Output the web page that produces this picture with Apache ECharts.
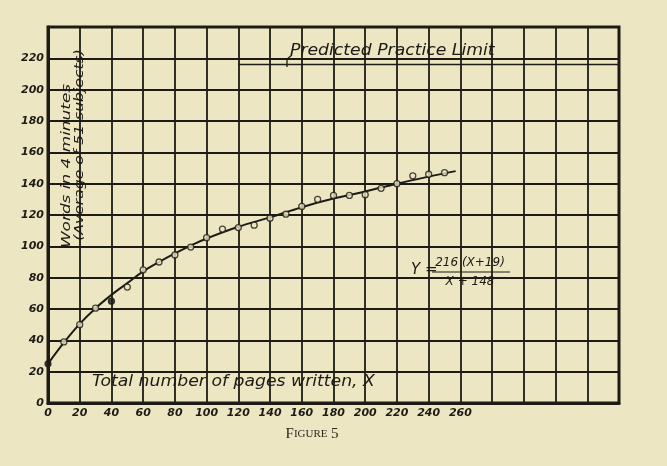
<!DOCTYPE html>
<html>
<head>
<meta charset="utf-8">
<script src="https://cdn.jsdelivr.net/npm/echarts@6/dist/echarts.min.js"></script>
<style>
html,body{margin:0;padding:0;background:#ede6c3;}
#c{width:667px;height:466px;}
</style>
</head>
<body>
<div id="c"></div>
<script>
// Observed points (pages written, words in 4 minutes)
const pointX = [0,10,20,30,40,50,60,70,80,90,100,110,120,130,140,150,160,170,180,190,200,210,220,230,240,250];
const pointY = [25,39,50,60.5,65,74,85,90,94.5,99.5,105.5,111,112,113.5,118,120.5,125.5,130,132.5,132.5,133,137,140,145,146,147];
// Fitted curve
const curveX = [0,10,20,30,40,50,60,70,80,90,100,120,140,160,180,200,220,240,257];
const curveY = [25,38.5,50.5,60.5,69,76.5,84,90,95.5,100.5,105,112.5,118.5,125,130.5,135,140,144.5,148];
// Predicted practice limit line
const limitX = [120,360];
const limitY = [216,216];
const filledPoints = [0,40];
const xMaxLabel = 260;
const yMaxLabel = 220;

const ink = '#1c1b16';
const paper = '#ede6c3';
const chart = echarts.init(document.getElementById('c'), null, {renderer:'canvas'});
const font = 'DejaVu Sans';
chart.setOption({
  backgroundColor:paper,
  animation:false,
  grid:{left:48,right:48,top:27,bottom:63,show:true,borderColor:ink,borderWidth:3,backgroundColor:'transparent'},
  xAxis:{type:'value',min:0,max:360,interval:20,
    axisLine:{show:true,lineStyle:{color:ink,width:3}},
    axisTick:{show:false},
    splitLine:{show:true,lineStyle:{color:ink,width:1.8}},
    axisLabel:{color:ink,fontFamily:font,fontStyle:'italic',fontWeight:'bold',fontSize:11,margin:5,
      formatter:v=>v<=xMaxLabel?String(v):''}},
  yAxis:{type:'value',min:0,max:240,interval:20,
    axisLine:{show:true,lineStyle:{color:ink,width:3}},
    axisTick:{show:false},
    splitLine:{show:true,lineStyle:{color:ink,width:1.8}},
    axisLabel:{color:ink,fontFamily:font,fontStyle:'italic',fontWeight:'bold',fontSize:11,margin:4,
      formatter:v=>v<=yMaxLabel?String(v):''}},
  series:[
    {type:'line',data:curveX.map((x,i)=>[x,curveY[i]]),smooth:0.4,showSymbol:false,
      lineStyle:{color:ink,width:2},z:3},
    {type:'line',data:limitX.map((x,i)=>[x,limitY[i]]),showSymbol:false,
      lineStyle:{color:ink,width:1.5},z:3},
    {type:'scatter',data:pointX.map((x,i)=>({value:[x,pointY[i]],
        itemStyle:{color:filledPoints.includes(x)?ink:paper}})),
      symbol:'circle',symbolSize:6,
      itemStyle:{borderColor:ink,borderWidth:1.3},z:4}
  ],
  graphic:[
    {type:'text',x:67,y:166,rotation:Math.PI/2,scaleX:1.3,style:{text:'Words in 4 minutes',fill:ink,
      font:'italic 13px '+font,textAlign:'center',textVerticalAlign:'middle'}},
    {type:'text',x:80,y:145,rotation:Math.PI/2,scaleX:1.3,style:{text:'(Average of 51 subjects)',fill:ink,
      font:'italic 12px '+font,textAlign:'center',textVerticalAlign:'middle'}},
    {type:'text',x:92,y:382,scaleX:1.15,style:{text:'Total number of pages written, X',fill:ink,
      font:'italic 15px '+font,textAlign:'left',textVerticalAlign:'middle'}},
    {type:'polyline',shape:{points:[[287,67],[287,59],[292,55]]},style:{stroke:ink,lineWidth:1.3,fill:null}},
    {type:'text',x:290,y:51,scaleX:1.15,style:{text:'Predicted Practice Limit',fill:ink,
      font:'italic 15px '+font,textAlign:'left',textVerticalAlign:'middle'}},
    {type:'text',x:411,y:270,style:{text:'Y =',fill:ink,
      font:'italic 15px '+font,textAlign:'left',textVerticalAlign:'middle'}},
    {type:'text',x:470,y:263,style:{text:'216 (X+19)',fill:ink,
      font:'italic 12px '+font,textAlign:'center',textVerticalAlign:'middle'}},
    {type:'line',shape:{x1:432,y1:272,x2:510,y2:272},style:{stroke:ink,lineWidth:1.2}},
    {type:'text',x:470,y:282,style:{text:'X + 148',fill:ink,
      font:'italic 12px '+font,textAlign:'center',textVerticalAlign:'middle'}},
    {type:'text',x:312,y:434,style:{
      rich:{a:{fontSize:15,fontFamily:'Liberation Serif',fill:'#2a2820'},b:{fontSize:11,fontFamily:'Liberation Serif',fill:'#2a2820'}},
      text:'{a|F}{b|IGURE} {a|5}',textAlign:'center',textVerticalAlign:'middle'}}
  ]
});
</script>
</body>
</html>
